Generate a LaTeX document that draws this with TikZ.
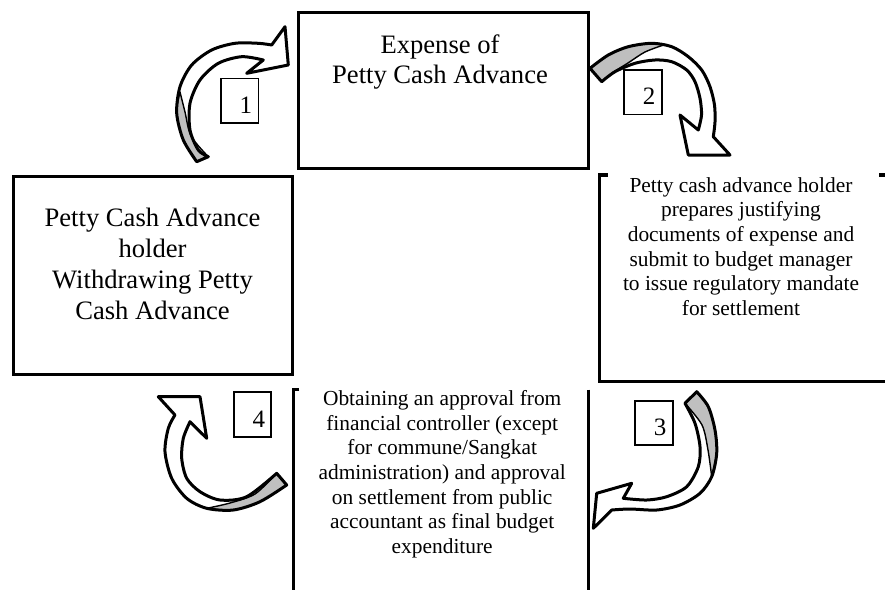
\documentclass[tikz,border=0pt]{standalone}
\usepackage{fontspec}
\setmainfont{Liberation Serif}
\newcommand\bigtxtfont{\fontsize{26.6}{30.8}\selectfont}
\newcommand\smalltxtfont{\fontsize{21.4}{24.65}\selectfont}
\tikzset{
  bigbox/.style={draw, line width=3.3pt, inner sep=0pt, outer sep=0pt},
  openbox/.style={inner sep=0pt, outer sep=0pt},
  edgeline/.style={line width=3.3pt, line cap=butt},
  numbox/.style={draw, line width=1.8pt, inner sep=0pt, outer sep=0pt,
     minimum width=37.5pt, minimum height=44.5pt},
  digit/.style={inner sep=0pt, anchor=base east, font=\fontsize{25}{25}\selectfont},
  arrowfill/.style={fill=white},
  arrowline/.style={draw, line width=3pt, line join=round},
  ribbon/.style={fill=gray!50, draw, line width=1.4pt, line join=round},
  bigtxt/.style={align=center, inner sep=0pt, font=\bigtxtfont},
  smalltxt/.style={align=center, inner sep=0pt, font=\smalltxtfont}
}
\begin{document}
\begin{tikzpicture}[x=1pt,y=-1pt]
\useasboundingbox (0,0) rectangle (885,589);
\fill[white] (0,0) rectangle (885,589);

% main boxes
\node[bigbox, minimum width=290pt, minimum height=155.6pt] (top) at (443.3,90.5) {};
\node[bigbox, minimum width=279.4pt, minimum height=197.8pt] (left) at (153,275.6) {};
\node[openbox, minimum width=286.5pt, minimum height=206.7pt] (right) at (742.75,278.35) {};
\node[openbox, minimum width=295pt, minimum height=210.5pt] (bottom) at (440.8,494.75) {};

\draw[edgeline] ([xshift=8pt]right.north west) -- (right.north west) -- (right.south west) -- (right.south east);
\draw[edgeline] ([xshift=-7pt]right.north east) -- (right.north east);
\draw[edgeline] ([xshift=6pt]bottom.north west) -- (bottom.north west) -- (bottom.south west);
\draw[edgeline] (bottom.north east) -- (bottom.south east);

% texts
\node[bigtxt] (toptext) at (440,62) {Expense of\\Petty Cash Advance};
\node[bigtxt] (lefttext) at (152.5,264) {Petty Cash Advance\\holder\\Withdrawing Petty\\Cash Advance};
\node[smalltxt] (righttext) at (741,246.5) {Petty cash advance holder\\prepares justifying\\documents of expense and\\submit to budget manager\\to issue regulatory mandate\\for settlement};
\node[smalltxt] (bottomtext) at (442.2,474.3) {Obtaining an approval from\\financial controller (except\\for commune/Sangkat\\administration) and approval\\on settlement from public\\accountant as final budget\\expenditure};

% number boxes
\node[numbox] (n1) at (239.65,100.8) {};
\node[numbox] (n2) at (642.85,92.15) {};
\node[numbox] (n3) at (653.85,422.85) {};
\node[numbox] (n4) at (252.5,414.5) {};
\node[digit] (d1) at ([xshift=-6pt,yshift=9.5pt]n1.south east) {1};
\node[digit] (d2) at ([xshift=-6pt,yshift=9.5pt]n2.south east) {2};
\node[digit] (d3) at ([xshift=-6pt,yshift=9.5pt]n3.south east) {3};
\node[digit] (d4) at ([xshift=-6pt,yshift=9.5pt]n4.south east) {4};

% ---- arrow 1
\fill[arrowfill] plot[smooth] coordinates {(196.7,161.7) (183.3,140) (176.7,113.3) (180,86.7) (191.7,65) (211.7,50) (235,43.3) (258.3,43.3) (271.7,45)}
  -- (285,26.7) -- (288.3,65) -- (246.7,73.3) -- (263.3,60)
  -- plot[smooth] coordinates {(263.3,60) (241.7,56.7) (218.3,63.3) (200,80) (190,103.3) (190,130) (198.3,150) (208.3,156.7)} -- cycle;
\path[ribbon] plot[smooth] coordinates {(196.7,161.7) (183.3,140) (176.7,113.3) (180,92)}
  -- plot[smooth] coordinates {(180,92) (185,112) (191,136) (208.3,156.7)} -- cycle;
\path[arrowline] plot[smooth] coordinates {(196.7,161.7) (183.3,140) (176.7,113.3) (180,86.7) (191.7,65) (211.7,50) (235,43.3) (258.3,43.3) (271.7,45)}
  -- (285,26.7) -- (288.3,65) -- (246.7,73.3) -- (263.3,60)
  -- plot[smooth] coordinates {(263.3,60) (241.7,56.7) (218.3,63.3) (200,80) (190,103.3) (190,130) (198.3,150) (208.3,156.7)} -- cycle;

% ---- arrow 2
\fill[arrowfill] plot[smooth] coordinates {(590,68.3) (608.3,55) (628.3,46.7) (651.7,43.3) (671.7,46.7) (688.3,56.7) (701.7,70) (710,86.7) (714.5,105) (715,122) (713.3,136.7)}
  -- (730,155) -- (688.3,155) -- (680,115) -- (698.3,130)
  -- plot[smooth] coordinates {(698.3,130) (701.5,115) (700,98.3) (695,81.7) (686.7,70) (671.7,61.7) (655,60) (635,63.3) (615,71.7) (601.7,81.7)} -- cycle;
\path[ribbon] plot[smooth] coordinates {(590,68.3) (608.3,55) (628.3,46.7) (651.7,43.3) (665,44.5)}
  -- plot[smooth] coordinates {(665,44.5) (645,52) (628,63) (612,73) (601.7,81.7)} -- cycle;
\path[arrowline] plot[smooth] coordinates {(590,68.3) (608.3,55) (628.3,46.7) (651.7,43.3) (671.7,46.7) (688.3,56.7) (701.7,70) (710,86.7) (714.5,105) (715,122) (713.3,136.7)}
  -- (730,155) -- (688.3,155) -- (680,115) -- (698.3,130)
  -- plot[smooth] coordinates {(698.3,130) (701.5,115) (700,98.3) (695,81.7) (686.7,70) (671.7,61.7) (655,60) (635,63.3) (615,71.7) (601.7,81.7)} -- cycle;

% ---- arrow 3
\fill[arrowfill] plot[smooth] coordinates {(696.7,391.7) (708.3,406.7) (715,430) (716.7,453.3) (711.7,476.7) (700,493.3) (680,505) (656.7,510) (630,509) (611.7,510)}
  -- (593.3,528.3) -- (596.7,493.3) -- (631.7,483.3) -- (623.3,498.3)
  -- plot[smooth] coordinates {(623.3,498.3) (646.7,500) (666.7,496.7) (686.7,486.7) (698.3,466.7) (700,446.7) (695,423.3) (685,403.3)} -- cycle;
\path[ribbon] plot[smooth] coordinates {(696.7,391.7) (708.3,406.7) (715,430) (716.7,453.3) (711.7,476.7)}
  -- plot[smooth] coordinates {(711.7,476.7) (708,450) (702,425) (685,403.3)} -- cycle;
\path[arrowline] plot[smooth] coordinates {(696.7,391.7) (708.3,406.7) (715,430) (716.7,453.3) (711.7,476.7) (700,493.3) (680,505) (656.7,510) (630,509) (611.7,510)}
  -- (593.3,528.3) -- (596.7,493.3) -- (631.7,483.3) -- (623.3,498.3)
  -- plot[smooth] coordinates {(623.3,498.3) (646.7,500) (666.7,496.7) (686.7,486.7) (698.3,466.7) (700,446.7) (695,423.3) (685,403.3)} -- cycle;

% ---- arrow 4
\fill[arrowfill] plot[smooth] coordinates {(286.7,485) (260,501.7) (233.3,510) (206.7,508.3) (186.7,498.3) (171.7,478.3) (165,451.7) (168.3,428.3) (175,415)}
  -- (158.3,396.7) -- (200,396.7) -- (206.7,438.3) -- (190,421.7)
  -- plot[smooth] coordinates {(190,421.7) (183.3,438.3) (181.7,458.3) (186.7,478.3) (200,491.7) (220,500) (246.7,496.7) (276.7,473.3)} -- cycle;
\path[ribbon] plot[smooth] coordinates {(286.7,485) (260,501.7) (233.3,510) (206.7,508.3)}
  -- plot[smooth] coordinates {(206.7,508.3) (230,503) (255,494) (276.7,473.3)} -- cycle;
\path[arrowline] plot[smooth] coordinates {(286.7,485) (260,501.7) (233.3,510) (206.7,508.3) (186.7,498.3) (171.7,478.3) (165,451.7) (168.3,428.3) (175,415)}
  -- (158.3,396.7) -- (200,396.7) -- (206.7,438.3) -- (190,421.7)
  -- plot[smooth] coordinates {(190,421.7) (183.3,438.3) (181.7,458.3) (186.7,478.3) (200,491.7) (220,500) (246.7,496.7) (276.7,473.3)} -- cycle;
\end{tikzpicture}
\end{document}
